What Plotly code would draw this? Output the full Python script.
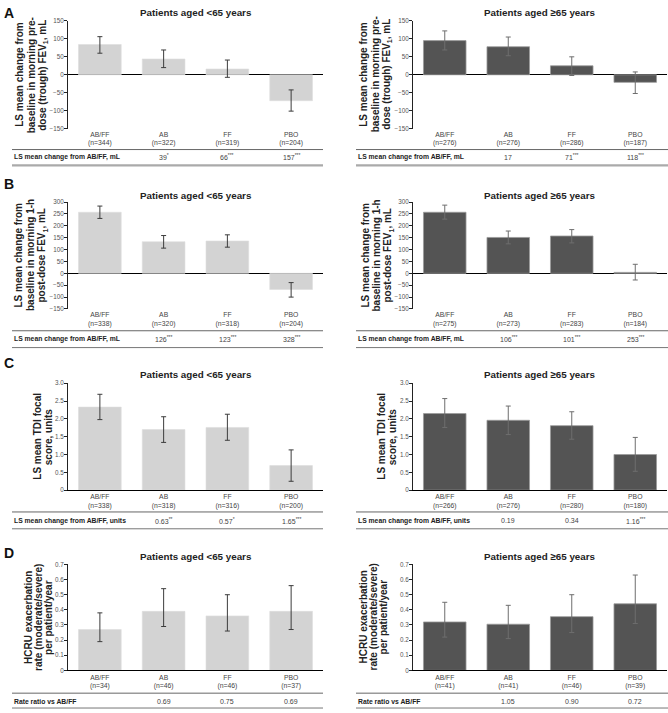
import plotly.graph_objects as go

W, H = 668, 713
FONT = "Liberation Sans, Arial, sans-serif"

cats = ["AB/FF", "AB", "FF", "PBO"]

# Panel A: trough FEV1
A_L_n = [344, 322, 319, 204]
A_L_mean = [84, 44, 16, -72]
A_L_hi = [106, 69, 41, -42]
A_L_lo = [60, 20, -7, -101]
A_R_n = [276, 276, 286, 187]
A_R_mean = [95, 78, 25, -21]
A_R_hi = [122, 105, 50, 8]
A_R_lo = [69, 53, -2, -52]
A_L_row = ["", "39<sup>*</sup>", "66<sup>***</sup>", "157<sup>***</sup>"]
A_R_row = ["", "17", "71<sup>***</sup>", "118<sup>***</sup>"]

# Panel B: 1-h post-dose FEV1
B_L_n = [338, 320, 318, 204]
B_L_mean = [257, 133, 136, -68]
B_L_hi = [283, 159, 162, -39]
B_L_lo = [231, 106, 110, -100]
B_R_n = [275, 273, 283, 184]
B_R_mean = [257, 151, 157, 4]
B_R_hi = [287, 178, 184, 38]
B_R_lo = [228, 124, 128, -28]
B_L_row = ["", "126<sup>***</sup>", "123<sup>***</sup>", "328<sup>***</sup>"]
B_R_row = ["", "106<sup>***</sup>", "101<sup>***</sup>", "253<sup>***</sup>"]

# Panel C: TDI focal score
C_L_n = [338, 318, 316, 200]
C_L_mean = [2.33, 1.70, 1.76, 0.69]
C_L_hi = [2.69, 2.06, 2.13, 1.13]
C_L_lo = [1.98, 1.34, 1.40, 0.25]
C_R_n = [266, 276, 280, 180]
C_R_mean = [2.15, 1.96, 1.81, 1.00]
C_R_hi = [2.57, 2.36, 2.20, 1.48]
C_R_lo = [1.76, 1.56, 1.43, 0.53]
C_L_row = ["", "0.63<sup>**</sup>", "0.57<sup>*</sup>", "1.65<sup>***</sup>"]
C_R_row = ["", "0.19", "0.34", "1.16<sup>***</sup>"]

# Panel D: HCRU exacerbation rate
D_L_n = [34, 46, 46, 37]
D_L_mean = [0.27, 0.39, 0.36, 0.39]
D_L_hi = [0.38, 0.54, 0.50, 0.56]
D_L_lo = [0.19, 0.29, 0.26, 0.27]
D_R_n = [41, 41, 46, 39]
D_R_mean = [0.32, 0.305, 0.355, 0.44]
D_R_hi = [0.45, 0.43, 0.50, 0.63]
D_R_lo = [0.22, 0.21, 0.25, 0.31]
D_L_row = ["", "0.69", "0.75", "0.69"]
D_R_row = ["", "1.05", "0.90", "0.72"]

fev_ticks = [150, 100, 50, 0, -50, -100, -150]
fev1h_ticks = [300, 250, 200, 150, 100, 50, 0, -50, -100, -150]
tdi_ticks = [3.0, 2.5, 2.0, 1.5, 1.0, 0.5, 0]
tdi_ticktext = ["3.0", "2.5", "2.0", "1.5", "1.0", "0.5", "0"]
hcru_ticks = [0.7, 0.6, 0.5, 0.4, 0.3, 0.2, 0.1, 0]
hcru_ticktext = ["0.7", "0.6", "0.5", "0.4", "0.3", "0.2", "0.1", "0"]

titles = ["Patients aged &lt;65 years", "Patients aged ≥65 years"]

ytitle_A = ["LS mean change from", "baseline in morning pre-", "dose (trough) FEV<sub>1</sub>, mL"]
ytitle_B = ["LS mean change from", "baseline in morning 1-h", "post-dose FEV<sub>1</sub>, mL"]
ytitle_C = ["LS mean TDI focal", "score, units"]
ytitle_D = ["HCRU exacerbation", "rate (moderate/severe)", "per patient/year"]

rowlab_A = "LS mean change from AB/FF, mL"
rowlab_C = "LS mean change from AB/FF, units"
rowlab_D = "Rate ratio vs AB/FF"

panels = [
    dict(letter="A", top=17, bot=126, yr=[-150, 150], tv=fev_ticks, tt=None, yt=ytitle_A,
         ytx=([20, 31.5, 43], [364, 375.5, 387]),
         ty=9, row=rowlab_A, lt=147, rt=155, lb=163, ly=9, zero=True,
         L=(A_L_n, A_L_mean, A_L_hi, A_L_lo, A_L_row), R=(A_R_n, A_R_mean, A_R_hi, A_R_lo, A_R_row), thick=True),
    dict(letter="B", top=200, bot=308, yr=[-150, 300], tv=fev1h_ticks, tt=None, yt=ytitle_B,
         ytx=([19, 30.5, 42], [366, 377, 388]),
         ty=193, row=rowlab_A, lt=330, rt=338, lb=347, ly=182, zero=True,
         L=(B_L_n, B_L_mean, B_L_hi, B_L_lo, B_L_row), R=(B_R_n, B_R_mean, B_R_hi, B_R_lo, B_R_row), thick=False),
    dict(letter="C", top=383, bot=491, yr=[0, 3.0], tv=tdi_ticks, tt=tdi_ticktext, yt=ytitle_C,
         ytx=([38, 48.5], [382, 392.5]),
         ty=374, row=rowlab_C, lt=513, rt=522, lb=530, ly=363, zero=False,
         L=(C_L_n, C_L_mean, C_L_hi, C_L_lo, C_L_row), R=(C_R_n, C_R_mean, C_R_hi, C_R_lo, C_R_row), thick=False),
    dict(letter="D", top=566, bot=673, yr=[0, 0.7], tv=hcru_ticks, tt=hcru_ticktext, yt=ytitle_D,
         ytx=([28.5, 38.5, 48.5], [363, 373, 383]),
         ty=558, row=rowlab_D, lt=696, rt=704, lb=711, ly=554, zero=False,
         L=(D_L_n, D_L_mean, D_L_hi, D_L_lo, D_L_row), R=(D_R_n, D_R_mean, D_R_hi, D_R_lo, D_R_row), thick=False),
]

xdom = {"L": (68, 323), "R": (413, 667)}
tablex = {"L": (12, 323), "R": (356, 668)}
bar_style = {
    "L": dict(color="#d3d3d3", line=dict(color="#dedede", width=0.6)),
    "R": dict(color="#545454", line=dict(color="#9a9a9a", width=0.8)),
}
err_color = {"L": "#3c3c3c", "R": "#6e6e6e"}

def py(p):
    return 1 - p / H

def px(p):
    return p / W

fig = go.Figure()
layout = dict(
    width=W, height=H, margin=dict(l=0, r=0, t=0, b=0),
    paper_bgcolor="white", plot_bgcolor="white",
    font=dict(family=FONT, color="#333"), showlegend=False,
)
annotations = []
shapes = []

idx = 0
for p in panels:
    for side in ("L", "R"):
        idx += 1
        xa = "x" if idx == 1 else f"x{idx}"
        ya = "y" if idx == 1 else f"y{idx}"
        xkey = "xaxis" if idx == 1 else f"xaxis{idx}"
        ykey = "yaxis" if idx == 1 else f"yaxis{idx}"
        n, mean, hi, lo, row = p[side]
        fig.add_trace(go.Bar(
            x=cats, y=mean, xaxis=xa, yaxis=ya,
            marker=bar_style[side], width=0.67,
            error_y=dict(type="data", symmetric=False,
                         array=[h - m for h, m in zip(hi, mean)],
                         arrayminus=[m - l for m, l in zip(mean, lo)],
                         color=err_color[side], thickness=1, width=2.5),
            hoverinfo="skip",
        ))
        x0, x1 = xdom[side]
        layout[xkey] = dict(
            domain=[px(x0), px(x1)], anchor=ya, type="category",
            categoryorder="array", categoryarray=cats, range=[-0.5, 3.5],
            tickvals=cats, ticktext=[f"{c}<br>(n={k})" for c, k in zip(cats, n)],
            tickfont=dict(size=6.8, color="#444", family=FONT),
            showline=not p["zero"], linecolor="black", linewidth=1,
            ticks="", showgrid=False, zeroline=False, fixedrange=True,
        )
        layout[ykey] = dict(
            domain=[py(p["bot"]), py(p["top"])], anchor=xa, range=p["yr"],
            tickvals=p["tv"], ticktext=p["tt"] if p["tt"] else None,
            tickfont=dict(size=6.3, color="#555", family=FONT),
            ticklabelstandoff=-1,
            showline=True, linecolor="#222", linewidth=1, ticks="outside",
            ticklen=3, tickcolor="#222", tickwidth=1, showgrid=False,
            zeroline=p["zero"], zerolinecolor="black", zerolinewidth=1.2,
            fixedrange=True,
        )
        annotations.append(dict(
            text=f"<b>{titles[0 if side == 'L' else 1]}</b>", xref="paper", yref="paper",
            x=px((x0 + x1) / 2), y=py(p["ty"]), xanchor="center", yanchor="middle",
            showarrow=False, font=dict(size=9.8, color="#222", family=FONT)))
        for line, lx in zip(p["yt"], p["ytx"][0 if side == "L" else 1]):
            annotations.append(dict(
                text=f"<b>{line}</b>", xref="paper", yref="paper",
                x=px(lx), y=py((p["top"] + p["bot"]) / 2),
                xanchor="center", yanchor="middle", textangle=-90, showarrow=False,
                font=dict(size=10, color="#222", family=FONT)))
        tx0, tx1 = tablex[side]
        annotations.append(dict(
            text=f"<b>{p['row']}</b>", xref="paper", yref="paper",
            x=px(tx0), y=py(p["rt"]), xanchor="left", yanchor="middle",
            showarrow=False, font=dict(size=6.8, color="#222", family=FONT)))
        for c, v in zip(cats, row):
            if v:
                annotations.append(dict(
                    text=v, xref=xa, yref="paper", x=c, y=py(p["rt"]),
                    xanchor="center", yanchor="middle", showarrow=False,
                    font=dict(size=7, color="#444", family=FONT)))
        shapes.append(dict(type="line", xref="paper", yref="paper",
                           x0=px(tx0), x1=px(tx1), y0=py(p["lt"]), y1=py(p["lt"]),
                           line=dict(color="#666", width=1)))
        shapes.append(dict(type="line", xref="paper", yref="paper",
                           x0=px(tx0), x1=px(tx1), y0=py(p["lb"]), y1=py(p["lb"]),
                           line=dict(color="#aaaaaa" if p["thick"] else "#777",
                                     width=2.2 if p["thick"] else 1)))
    annotations.append(dict(
        text=f"<b>{p['letter']}</b>", xref="paper", yref="paper",
        x=px(2), y=py(p["ly"]), xanchor="left", yanchor="middle",
        showarrow=False, font=dict(size=14, color="#111", family=FONT)))

layout["annotations"] = annotations
layout["shapes"] = shapes
fig.update_layout(**layout)
fig.write_html("out.html", config={"displayModeBar": False},
               post_script="document.body.style.margin='0';document.body.style.padding='0';")
